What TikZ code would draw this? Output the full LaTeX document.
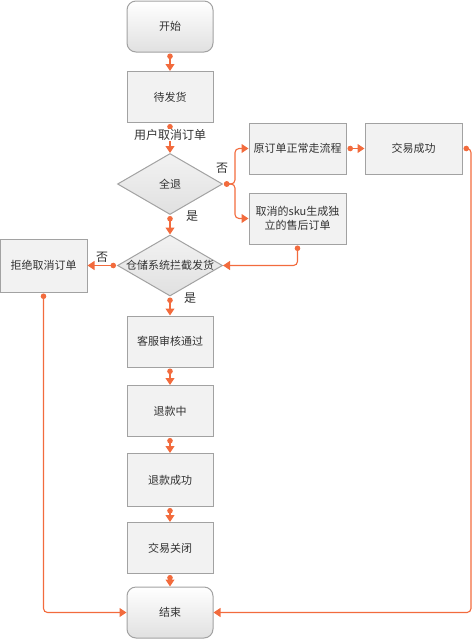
\documentclass[tikz,border=0pt]{standalone}
\usepackage{fontspec}
\setmainfont{Noto Sans CJK SC}
\usetikzlibrary{shapes.geometric,arrows.meta}
\definecolor{arr}{HTML}{F26B3D}
\definecolor{bord}{HTML}{A2A2A2}
\definecolor{boxfill}{HTML}{F2F2F2}
\definecolor{txt}{HTML}{333333}
\begin{document}
\begin{tikzpicture}[x=1pt,y=-1pt,
  every node/.style={text=txt,font=\fontsize{11pt}{14pt}\selectfont},
  box/.style={draw=bord,line width=1pt,fill=boxfill,rectangle,inner sep=0pt,align=center,minimum width=86pt,minimum height=51pt},
  wide/.style={box,minimum width=97pt},
  term/.style={draw=bord,line width=1pt,rectangle,rounded corners=9pt,top color=white,bottom color=black!12,inner sep=0pt,minimum width=86pt,minimum height=51pt},
  dia/.style={draw=bord,line width=1pt,diamond,top color=black!5,bottom color=black!12,inner sep=0pt,minimum width=105pt,minimum height=61pt},
  conn/.style={draw=arr,line width=1.1pt,rounded corners=4pt,{Circle[length=5.5pt,sep=1pt]}-{Triangle[length=7pt,width=9pt]}},
  lab/.style={font=\fontsize{12pt}{14pt}\selectfont,inner sep=0.5pt}
]
\useasboundingbox (0,0) rectangle (474,640);
\node[term] (start) at (170,26.5) {开始};
\node[box] (wait) at (170,97) {待发货};
\node[dia,label={center:全退}] (quan) at (170,184) {};
\node[wide] (yuan) at (297.5,148.5) {原订单正常走流程};
\node[wide] (jy) at (413.5,148.5) {交易成功};
\node[wide] (sku) at (297.5,218.5) {取消的sku生成独\\立的售后订单};
\node[dia,label={center:仓储系统拦截发货}] (cang) at (170,265.5) {};
\node[box,minimum width=87pt,minimum height=53pt] (jujue) at (43.5,265.5) {拒绝取消订单};
\node[box] (kf) at (170,341.5) {客服审核通过};
\node[box] (tk) at (170,411) {退款中};
\node[box,minimum height=53pt] (tkcg) at (170,480) {退款成功};
\node[box] (jygb) at (170,548) {交易关闭};
\node[term] (end) at (170,612.5) {结束};

\coordinate (br) at (235,184);
\coordinate (rr) at (471,148.5);

\draw[conn] (start) -- (wait);
\draw[conn] (wait) -- (quan);
\node[lab,fill=white] (ucancel) at (170,135) {用户取消订单};
\draw[conn] (quan.east) -- (br) |- (yuan.west);
\draw[conn] (quan.east) -- (br) |- (sku.west);
\draw[conn] (yuan) -- (jy);
\draw[conn] (sku.south) |- (cang.east);
\draw[conn] (quan) -- (cang);
\draw[conn] (cang) -- (jujue);
\draw[conn] (cang) -- (kf);
\draw[conn] (kf) -- (tk);
\draw[conn] (tk) -- (tkcg);
\draw[conn] (tkcg) -- (jygb);
\draw[conn] (jygb) -- (end);
\draw[conn] (jujue.south) |- (end.west);
\draw[conn] (jy.east) -- (rr) |- (end.east);

\node[lab] (no1) at (222,168) {否};
\node[lab] (yes1) at (192,216) {是};
\node[lab] (no2) at (102,257) {否};
\node[lab] (yes2) at (190,298) {是};
\end{tikzpicture}
\end{document}
